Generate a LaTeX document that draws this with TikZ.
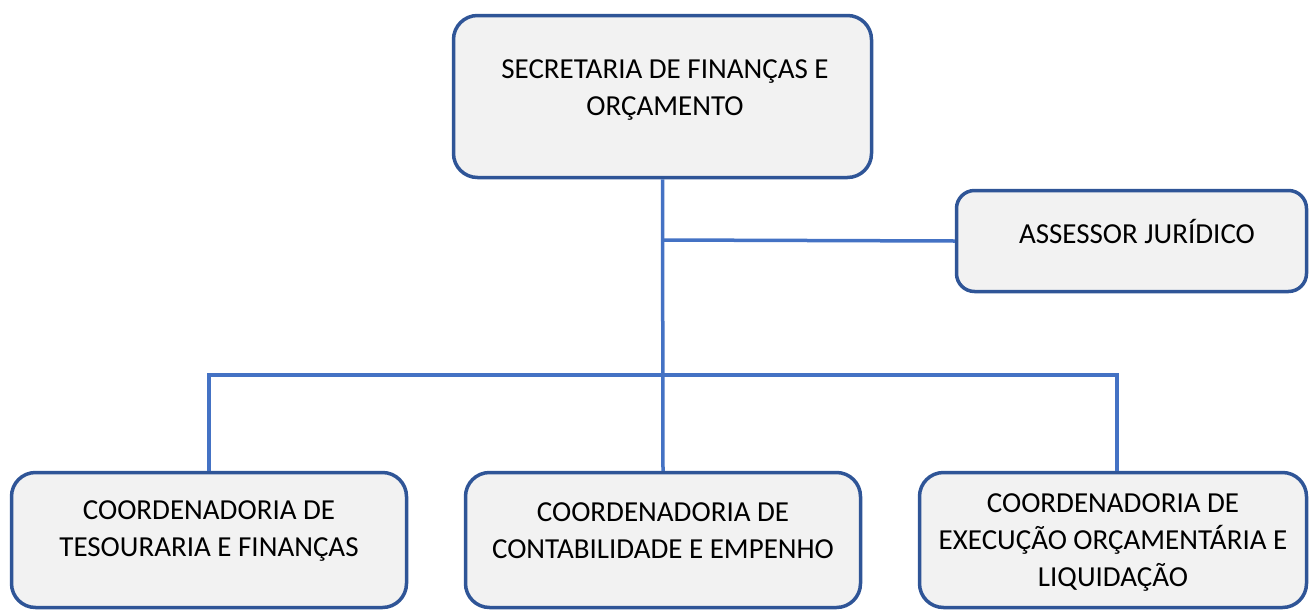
\documentclass[tikz,border=0pt]{standalone}
\usepackage{fontspec}
\setmainfont{Carlito}
\usetikzlibrary{positioning}
\definecolor{boxline}{HTML}{2F5597}
\definecolor{boxfill}{HTML}{F2F2F2}
\definecolor{linkline}{HTML}{4472C4}
\tikzset{
  orgbox/.style={draw=boxline, fill=boxfill, line width=3.5pt, rounded corners=24pt, inner sep=0pt},
  orgtext/.style={align=center, font=\fontsize{29}{37}\selectfont, inner sep=0pt},
  link/.style={draw=linkline, line width=3.5pt}
}
\begin{document}
\begin{tikzpicture}[x=1pt,y=-1pt]
        \useasboundingbox (0,0) rectangle (1310,611);

        % Caixas
        \node[orgbox, minimum width=418pt, minimum height=162pt](sec) at (662.5,96.5) {};
        \node[orgbox, rounded corners=18pt, minimum width=350pt, minimum height=101pt](ass) at (1131.5,241) {};
        \node[orgbox, minimum width=395pt, minimum height=135pt](tes) at (209,540) {};
        \node[orgbox, minimum width=395pt, minimum height=135pt](con) at (663,540) {};
        \node[orgbox, minimum width=387pt, minimum height=135pt](exe) at (1113,540) {};

        % Textos
        \node[orgtext](sectxt) at (665,90) {SECRETARIA DE FINANÇAS E\\ORÇAMENTO};
        \node[orgtext](asstxt) at (1137,231) {ASSESSOR JURÍDICO};
        \node[orgtext](testxt) at (209,531) {COORDENADORIA DE\\TESOURARIA E FINANÇAS};
        \node[orgtext](contxt) at (663,531) {COORDENADORIA DE\\CONTABILIDADE E EMPENHO};
        \node[orgtext](exetxt) at (1113,543) {COORDENADORIA DE\\EXECUÇÃO ORÇAMENTÁRIA E\\LIQUIDAÇÃO};

        % Pontos de ligacao
        \coordinate (jass) at (662.5,240);
        \coordinate (bus) at (662.5,375);
        \coordinate (exetop) at (1117,471);

        % Ligacoes
        \draw[link] (sec.south) -- (con.north);
        \draw[link] (jass) -- (ass.west);
        \draw[link] (tes.north) |- (bus) -| (exetop);
    \end{tikzpicture}
\end{document}
